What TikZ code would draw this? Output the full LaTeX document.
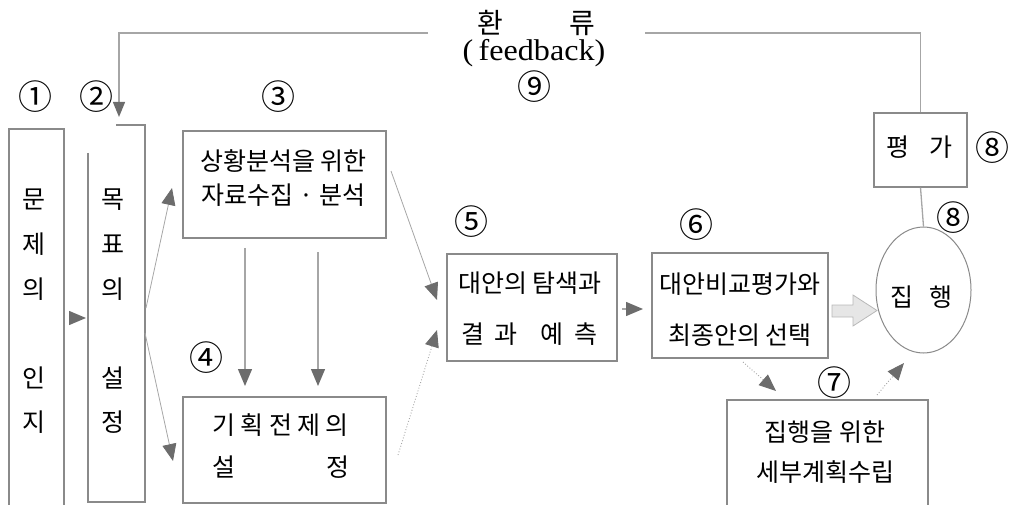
\documentclass[tikz,border=0pt]{standalone}
\usepackage{fontspec}
\setmainfont{Liberation Serif}
\newfontfamily\kr{Noto Sans CJK KR}
\usetikzlibrary{arrows.meta,shapes.geometric,calc}
\definecolor{boxc}{HTML}{8A8A8A}
\definecolor{linec}{HTML}{A6A6A6}
\definecolor{tipc}{HTML}{6C6C6C}
\definecolor{blockf}{HTML}{E6E6E6}
\definecolor{blockd}{HTML}{B8B8B8}
\newcommand{\zc}[1]{\makebox[0pt][c]{#1}}
\tikzset{
  box/.style={draw=boxc, line width=1.2pt, inner sep=0pt},
  frame/.style={draw=boxc, line width=1.2pt},
  conn/.style={draw=linec, line width=1.3pt},
  arr/.style={conn, -{Triangle[length=17pt,width=14pt,color=tipc]}},
  thinarr/.style={draw=linec, line width=0.8pt, -{Triangle[length=17pt,width=14pt,color=tipc]}},
  dotarr/.style={draw=linec, line width=0.9pt, dotted, -{Triangle[length=17pt,width=14pt,color=tipc]}},
  num/.style={inner sep=0pt, font=\kr\fontsize{34}{36}\selectfont},
  ln/.style={inner sep=0pt, anchor=base, font=\kr\fontsize{25}{27}\selectfont},
  lnw/.style={inner sep=0pt, anchor=base west, font=\kr\fontsize{25}{27}\selectfont},
}
\begin{document}
\begin{tikzpicture}[x=1pt,y=-1pt]
\useasboundingbox (0,0) rectangle (1012,505);
% frames with open bottoms
\draw[frame] (9,505) -- (9,129) -- (64,129) -- (64,505);
\draw[frame] (88,153) -- (88,502) -- (145,502) -- (145,125) -- (116,125);
\draw[frame] (727,505) -- (727,400) -- (928,400) -- (928,505);
% column texts
\foreach \ch/\yy [count=\i] in {문/199,제/244,의/289,인/378,지/422}
  \node[ln] (ca\i) at (34,\yy+9.5) {\ch};
\foreach \ch/\yy [count=\i] in {목/199,표/244,의/289,설/378,정/422}
  \node[ln] (cb\i) at (113,\yy+9.5) {\ch};
% boxes
\node[box, minimum width=203pt, minimum height=107pt] (b3) at (284.5,184.5) {};
\node[box, minimum width=203pt, minimum height=106pt] (b4) at (284.5,450) {};
\node[box, minimum width=170pt, minimum height=107pt] (b5) at (532,307.5) {};
\node[box, minimum width=176pt, minimum height=105pt] (b6) at (740,305.5) {};
\node[box, minimum width=93pt, minimum height=74pt] (b8) at (920.5,150) {};
\node[ellipse, draw=boxc, line width=1pt, minimum width=95pt, minimum height=126pt, inner sep=0pt] (ex) at (923.5,290) {};
% box texts
\node[ln] (b3a) at (283.5,170.5) {상황분석을 위한};
\node[ln] (b3b) at (283.5,204.5) {자료수집 · 분석};
\node[lnw] (b4a) at (224,434.5) {\zc{기}\hspace{28.3pt}\zc{획}\hspace{28.3pt}\zc{전}\hspace{28.3pt}\zc{제}\hspace{28.3pt}\zc{의}};
\node[lnw] (b4b) at (224,476.5) {\zc{설}\hspace{114pt}\zc{정}};
\node[ln] (b5a) at (530,292.5) {대안의 탐색과};
\node[lnw] (b5b) at (473,343.5) {\zc{결}\hspace{33pt}\zc{과}\hspace{46pt}\zc{예}\hspace{34pt}\zc{측}};
\node[ln] (b6a) at (740,293.5) {대안비교평가와};
\node[ln] (b6b) at (740,344.5) {최종안의 선택};
\node[ln] (b7a) at (825,441.5) {집행을 위한};
\node[ln] (b7b) at (825,481.5) {세부계획수립};
\node[lnw] (b8t) at (898,156.5) {\zc{평}\hspace{43pt}\zc{가}};
\node[lnw] (ext) at (902,306.5) {\zc{집}\hspace{39pt}\zc{행}};
% numbers
\node[num] (n1) at (35,97) {①};
\node[num] (n2) at (96,97) {②};
\node[num] (n3) at (278,97) {③};
\node[num] (n4) at (206,358) {④};
\node[num] (n5) at (471,222) {⑤};
\node[num] (n6) at (696,225) {⑥};
\node[num] (n7) at (834,383) {⑦};
\node[num] (n8a) at (953,218) {⑧};
\node[num] (n8b) at (992,148) {⑧};
\node[num] (n9) at (534,87) {⑨};
% feedback label
\node[lnw, font=\kr\fontsize{28}{30}\selectfont] (fb1) at (490,34) {\zc{환}\hspace{92pt}\zc{류}};
\node[inner sep=0pt, font=\fontsize{30}{32}\selectfont] (fb2) at (534,53) {\scalebox{1.07}[1]{(\,feedback)}};
% feedback loop
\coordinate (fbA) at (428,33);
\coordinate (fbB) at (645,33);
\coordinate (fbC) at (119,33);
\coordinate (fbD) at (119,117);
\draw[conn] (b8.north) -- (b8.north |- fbB) -- (fbB);
\draw[conn, -{Triangle[length=15pt,width=12pt,color=tipc]}] (fbA) -- (fbC) -- (fbD);
\draw[conn] (b8.south) -- (ex.north);
% connectors
\coordinate (a1s) at (69,318); \coordinate (a1e) at (86,318);
\draw[arr] (a1s) -- (a1e);
\coordinate (a2s) at (146,308); \coordinate (a2e) at (172,188);
\draw[thinarr] (a2s) -- (a2e);
\coordinate (a3s) at (145,333); \coordinate (a3e) at (173,461);
\draw[thinarr] (a3s) -- (a3e);
\coordinate (a4s) at (245,248); \coordinate (a4e) at (245,386);
\draw[arr] (a4s) -- (a4e);
\coordinate (a5s) at (318,252); \coordinate (a5e) at (318,386);
\draw[arr] (a5s) -- (a5e);
\coordinate (a6s) at (391,171); \coordinate (a6e) at (437,300);
\draw[thinarr] (a6s) -- (a6e);
\coordinate (a7s) at (398,455); \coordinate (a7e) at (437,330);
\draw[dotarr] (a7s) -- (a7e);
\coordinate (a8s) at (622,309); \coordinate (a8e) at (643,309);
\draw[arr] (a8s) -- (a8e);
\coordinate (a9s) at (743,362); \coordinate (a9e) at (776,391);
\draw[dotarr] (a9s) -- (a9e);
\coordinate (a10s) at (877,395); \coordinate (a10e) at (904,363);
\draw[dotarr] (a10s) -- (a10e);
% block arrow
\draw[draw=blockd, line width=0.8pt, fill=blockf] (832,305) -- (853,305) -- (853,295) -- (877,310.5) -- (853,326) -- (853,317) -- (832,317) -- cycle;
\end{tikzpicture}
\end{document}
